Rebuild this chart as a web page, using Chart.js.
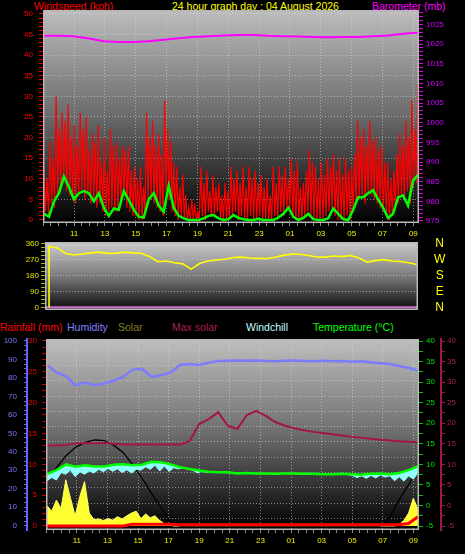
<!DOCTYPE html>
<html>
<head>
<meta charset="utf-8">
<script src="https://cdn.jsdelivr.net/npm/chart.js"></script>
<style>
html, body { margin: 0; padding: 0; background: #000; width: 465px; height: 554px; overflow: hidden; font-family: "Liberation Sans", Arial, sans-serif; }
canvas { position: absolute; left: 0; }
.txt { position: absolute; font-size: 10.5px; line-height: 12px; white-space: nowrap; }
</style>
</head>
<body>
<div class="txt" style="left:34px;top:0;color:#ff0000">Windspeed (kph)</div>
<div class="txt" style="left:172px;top:0;color:#ffff00">24 hour graph day : 04 August 2026</div>
<div class="txt" style="left:372px;top:0;color:#ff00ff">Barometer (mb)</div>

<div class="txt" style="left:0;top:321px;color:#ff0000">Rainfall (mm)</div>
<div class="txt" style="left:67px;top:321px;color:#8080ff">Humidity</div>
<div class="txt" style="left:118px;top:321px;color:#808020">Solar</div>
<div class="txt" style="left:172px;top:321px;color:#a8204e">Max solar</div>
<div class="txt" style="left:246px;top:321px;color:#c0ffff">Windchill</div>
<div class="txt" style="left:313px;top:321px;color:#00ff00">Temperature (°C)</div>

<canvas id="cTop" width="465" height="243" style="top:0"></canvas>
<canvas id="cDir" width="465" height="80" style="top:238px"></canvas>
<canvas id="cBottom" width="465" height="220" style="top:334px"></canvas>

<script>
// time axis (hours, 24h window ending next morning)
const HOURS_MIN = 8.985, HOURS_MAX = 33.365;
const DATA_START = 9.05, DATA_END = 33.3;
const WIND_DIR_START = 9.25;
const xTickHours = [11, 13, 15, 17, 19, 21, 23, 25, 27, 29, 31, 33];
const xTickLabels = ['11', '13', '15', '17', '19', '21', '23', '01', '03', '05', '07', '09'];
const dirTickValues = [0, 90, 180, 270, 360];
const dirTickLabels = ['N', 'E', 'S', 'W', 'N'];

// windspeed (kph)
const windGust = [
  13,2,10,1, 19,4,15,3, 30,6,22,8, 26,9,24,7, 28,6,20,5, 23,4,18,6, 26,7,22,5, 25,6,17,4,
  21,5,19,3, 23,4,14,2, 20,1,12,2, 22,3,18,2, 19,2,15,5, 18,6,17,3, 18,2,12,1, 13,1,10,0,
  13,0,8,2, 26,5,20,6, 24,4,18,3, 21,2,16,1, 29,7,22,5, 19,2,14,1, 13,0,8,1, 11,0,6,0,
  3,0,5,0, 4,0,2,0, 13,1,9,0, 12,2,7,1, 11,1,8,2, 9,0,6,0, 9,0,7,0, 13,1,10,2,
  12,0,9,1, 13,0,8,0, 13,1,10,0, 12,0,9,1, 11,0,8,0, 10,0,6,0, 13,1,9,0, 13,2,11,1,
  13,3,10,2, 15,1,12,0, 14,0,8,0, 9,1,12,2, 17,1,14,0, 13,0,10,0, 14,0,11,1, 15,2,13,3,
  16,1,12,0, 15,0,11,0, 15,1,12,0, 13,2,16,4, 24,5,20,6, 22,4,18,7, 24,6,19,5, 20,4,17,3,
  18,2,14,1, 14,0,10,1, 12,3,16,4, 21,6,18,5, 24,7,20,4, 29,8,22,9, 33
];
const windAvg = [
  1.5,0.8,4.5,6.5,10.5,8.0,5.0,6.5,7.0,6.5, 4.5,6.5,3.0,1.0,2.8,2.5,7.0,4.8,2.5,0.8,
  0.6,5.0,6.5,3.5,2.0,8.3,3.0,1.0,0.4,0, 0,0,0.4,1.0,1.2,0.4,0,0.2,1.2,0.5,
  0.2,0,0,0.3,0,0,0,0.6,1.5,3.0, 0.8,0,0.5,1.5,0.2,0,0,0.4,2.8,1.5,
  0.2,0,2.5,5.5,5.5,6.5,7.2,5.0,3.0,0.5, 1.5,5.5,6.0,3.5,9.5,11.0
];
// barometer (mb)
const baroMb = [
  1022.1,1022.1,1022.0,1021.4,1020.7,1020.5,1020.5,1020.7,1021.1,1021.5,1021.8,1022.0,1022.2,
  1022.3,1022.3,1022.1,1022.0,1021.9,1021.8,1021.7,1021.8,1021.8,1022.0,1022.2,1022.6,1022.9
];
// wind direction (degrees)
const windDirFirst = 0;
const windDir = [
  345,336,305,296,302,308,312,305,306,312, 308,306,288,258,262,252,246,216,248,262,
  268,272,282,284,279,277,276,283,294,301, 300,293,285,284,290,287,293,281,256,264,
  270,262,259,252,242
];
const windDirBase = [0, 0];

// lower panel
const humidity = [
  87,83,81,76,77.5,76,77,78.5,80.5,84.5, 85,80.5,81.5,83,87,87.5,87,88.3,89.2,89.3,
  89.5,89.3,89.5,89.2,89.0,89.3,89.5,89.2,89.0,89.3, 89.0,89.2,88.8,89.0,88.5,88.0,87.5,86.5,85.5,84
];
const temperature = [
  7.6,8.6,10.0,9.4,9.8,9.5,9.5,9.9,10.0,9.8, 9.9,10.6,10.5,10.0,9.3,8.9,8.5,8.2,8.1,8.1,
  7.8,7.9,7.8,7.8,7.7,7.8,7.8,7.7,7.7,7.6, 7.6,7.7,7.6,7.5,7.7,7.8,7.6,7.9,8.6,9.5
];
const windchill = [
  6.0,6.8,6.2,8.0,7.6,8.6,7.0,8.2,7.6,8.4, 7.9,8.8,8.2,9.0,8.3,8.9,8.0,8.7,7.9,8.8,
  8.6,9.4,8.8,9.8,8.4,9.6,8.3,9.2,8.9,9.1, 8.8,8.6,7.9,8.3,8.0,8.1,8.1,8.1,8.0,8.0,
  7.8,7.8,7.9,7.8,7.8,7.8,7.8,7.7,7.7,7.7, 7.8,7.8,7.8,7.7,7.7,7.7,7.6,7.7,7.6,7.6,
  7.6,7.5,7.6,7.6,7.5,7.3,6.8,7.2,6.6,7.3, 6.7,7.4,6.9,7.2,6.0,7.0,5.9,7.2,6.4,8.0
];
const maxSolar = [
  14.6,14.6,14.7,15.1,15.2,15.1,15.2,15.0,14.8,14.8, 14.8,14.8,14.8,14.8,14.8,15.7,19.8,21.0,22.7,19.4,
  18.6,22.0,23.0,21.8,20.3,19.4,18.8,18.3,17.9,17.6, 17.3,17.0,16.7,16.5,16.2,16.0,15.8,15.6,15.5,15.4
];
const solarCurve = [
  249,315,380,425,452,465,462,437,398,332, 258,175,100,18,0,0,0,0,0,0,
  0,0,0,0,0,0,0,0,0,0, 0,0,0,0,0,0,45,140,222,320
];
const solar = [
  110,80,140,95,250,150,55,160,240,70, 35,38,30,40,32,50,38,55,70,80,
  40,65,45,55,30,12,5,0,0,0, 0,0,0,0,0,0,0,0,0,0,
  0,0,0,0,0,0,0,0,0,0, 0,0,0,0,0,0,0,0,0,0,
  0,0,0,0,0,0,0,0,0,0, 0,0,0,0,0,8,30,70,150,90
];
const rainfall = [
  0,0,0,0,0,0,0,0,0,0.3, 0.3,0.3,0.3,0.3,0.2,0.2,0.2,0.2,0.2,0.2,
  0.2,0.2,0.2,0.2,0.2,0.2,0.2,0.2,0.2,0.2, 0.2,0.2,0.2,0.2,0.2,0.2,0.2,0.2,0.4,1.5
];

const FONT = '"Liberation Sans", Arial, sans-serif';
const GRID = 'rgba(220,220,220,0.55)';
Chart.defaults.font.family = FONT;
Chart.defaults.font.size = 8;
Chart.defaults.animation = false;
Chart.defaults.plugins.legend.display = false;
Chart.defaults.plugins.tooltip.enabled = false;
Chart.defaults.elements.point.radius = 0;
Chart.defaults.elements.line.tension = 0;

function steps(a, b, s) {
  const out = [];
  for (let v = a; v <= b + 1e-9; v += s) out.push(Math.round(v * 1000) / 1000);
  return out;
}
const fixTicks = values => s => { s.ticks = values.map(v => ({ value: v })); };
// fixed axis boxes; drop label overhang padding so plot edges stay put
const fixWidth = w => s => { s.width = w; s.paddingTop = 0; s.paddingBottom = 0; };
const fixHeight = h => s => { s.height = h; s.paddingLeft = 0; s.paddingRight = 0; };
const isMult = (v, m) => Math.abs(v / m - Math.round(v / m)) < 1e-6;

// spread readings evenly over the logged time span
function spread(values, t0, t1) {
  const n = values.length;
  return values.map((v, i) => ({ x: t0 + (t1 - t0) * i / (n - 1), y: v }));
}

function hourAxis(height) {
  return {
    type: 'linear', min: HOURS_MIN, max: HOURS_MAX,
    afterBuildTicks: fixTicks(steps(9, 33, 0.5)),
    afterFit: fixHeight(height),
    grid: {
      color: c => (c.tick && xTickHours.includes(c.tick.value)) ? GRID : 'transparent',
      tickColor: '#8c8c8c', tickLength: 3
    },
    border: { display: false, dash: [1, 2] },
    ticks: {
      color: '#f0f000', padding: 3, autoSkip: false, maxRotation: 0, minRotation: 0,
      callback: v => { const i = xTickHours.indexOf(v); return i < 0 ? '' : xTickLabels[i]; }
    }
  };
}

// gradient plot background + light frame
const panelFrame = {
  id: 'panelFrame',
  beforeDraw(chart, args, o) {
    const { ctx, chartArea: a } = chart;
    const g = ctx.createLinearGradient(0, a.top, 0, a.bottom);
    g.addColorStop(0, o.top);
    g.addColorStop(0.5, o.mid);
    g.addColorStop(1, o.bottom);
    ctx.save();
    ctx.fillStyle = g;
    ctx.fillRect(a.left, a.top, a.width, a.height);
    ctx.restore();
  },
  afterDraw(chart) {
    const { ctx, chartArea: a } = chart;
    ctx.save();
    ctx.strokeStyle = '#b8b8b8';
    ctx.lineWidth = 1.5;
    ctx.strokeRect(a.left + 0.75, a.top + 0.75, a.width - 1.5, a.height - 1.5);
    ctx.restore();
  }
};

// ---- windspeed / barometer
new Chart(document.getElementById('cTop'), {
  type: 'line',
  plugins: [panelFrame],
  data: {
    datasets: [
      { data: spread(windAvg, DATA_START, DATA_END), yAxisID: 'y', borderColor: '#00ff00', borderWidth: 2.5 },
      { data: spread(baroMb, DATA_START, DATA_END), yAxisID: 'yBaro', borderColor: '#ff00ff', borderWidth: 2 },
      { data: spread(windGust, DATA_START, DATA_END), yAxisID: 'y', borderColor: '#ff0000', borderWidth: 1.2 }
    ]
  },
  options: {
    responsive: false,
    layout: { padding: { top: 10 } },
    plugins: { panelFrame: { top: '#bdbdbd', mid: '#6a6a6a', bottom: '#000000' } },
    scales: {
      x: hourAxis(20),
      y: {
        position: 'left', min: -0.73, max: 50.97,
        afterBuildTicks: fixTicks(steps(0, 50, 1)),
        afterFit: fixWidth(43),
        grid: { color: c => (c.tick && c.tick.value > 0 && isMult(c.tick.value, 5)) ? GRID : 'transparent', tickColor: '#e00000', tickLength: 4 },
        border: { display: false, dash: [1, 2] },
        ticks: { color: '#ff0000', padding: 6, autoSkip: false, callback: v => isMult(v, 5) ? v : '' }
      },
      yBaro: {
        position: 'right', min: 974.49, max: 1028.66,
        afterBuildTicks: fixTicks(steps(975, 1028, 1)),
        afterFit: fixWidth(46),
        grid: { drawOnChartArea: false, tickColor: '#e000e0', tickLength: 4 },
        border: { display: false },
        ticks: { color: '#d000ff', padding: 3, autoSkip: false, callback: v => isMult(v, 5) ? v : '' }
      }
    }
  }
});

// ---- wind direction
new Chart(document.getElementById('cDir'), {
  type: 'line',
  plugins: [panelFrame],
  data: {
    datasets: [
      { data: [{ x: WIND_DIR_START, y: windDirFirst }].concat(spread(windDir, WIND_DIR_START, DATA_END)), yAxisID: 'y', borderColor: '#ffff00', borderWidth: 1.6 },
      { data: spread(windDirBase, DATA_START, DATA_END), yAxisID: 'y', borderColor: '#d070d0', borderWidth: 2 }
    ]
  },
  options: {
    responsive: false,
    layout: { padding: { top: 4, bottom: 8 } },
    plugins: { panelFrame: { top: '#cdcdcd', mid: '#7a7a7a', bottom: '#0a0a0a' } },
    scales: {
      x: { type: 'linear', min: HOURS_MIN, max: HOURS_MAX, display: false },
      y: {
        position: 'left', min: -15.3, max: 369.6,
        afterBuildTicks: fixTicks(steps(0, 360, 22.5)),
        afterFit: fixWidth(45),
        grid: { color: c => (c.tick && c.tick.value > 0 && c.tick.value < 360 && isMult(c.tick.value, 90)) ? GRID : 'transparent', tickColor: '#b0b000', tickLength: 4 },
        border: { display: false, dash: [1, 2] },
        ticks: { color: '#e0e000', padding: 2, autoSkip: false, callback: v => isMult(v, 90) ? v : '' }
      },
      yDir: {
        position: 'right', min: -15.3, max: 369.6,
        afterBuildTicks: fixTicks(dirTickValues),
        afterFit: fixWidth(47),
        grid: { drawOnChartArea: false, tickColor: 'transparent', tickLength: 16 },
        border: { display: false },
        ticks: {
          color: '#ffff00', font: { size: 12 }, padding: 0, crossAlign: 'center', autoSkip: false,
          callback: v => { const i = dirTickValues.indexOf(v); return i < 0 ? '' : dirTickLabels[i]; }
        }
      }
    }
  }
});

// ---- rain / humidity / solar / temperature
new Chart(document.getElementById('cBottom'), {
  type: 'line',
  plugins: [panelFrame],
  data: {
    datasets: [
      { data: spread(rainfall, DATA_START, DATA_END), yAxisID: 'yRain', borderColor: '#ff0000', borderWidth: 3 },
      { data: spread(temperature, DATA_START, DATA_END), yAxisID: 'yTemp', borderColor: '#00ff00', borderWidth: 2.5 },
      { data: spread(windchill, DATA_START, DATA_END), yAxisID: 'yTemp', borderColor: '#90ffff', borderWidth: 1, fill: { target: 1 }, backgroundColor: '#90ffff' },
      { data: spread(humidity, DATA_START, DATA_END), yAxisID: 'yHum', borderColor: '#7c7cff', borderWidth: 2.5 },
      { data: spread(maxSolar, DATA_START, DATA_END), yAxisID: 'yMax', borderColor: '#a3144a', borderWidth: 2 },
      { data: spread(solarCurve, DATA_START, DATA_END), yAxisID: 'ySolar', borderColor: '#000000', borderWidth: 1.3 },
      { data: spread(solar, DATA_START, DATA_END), yAxisID: 'ySolar', borderColor: '#ffff70', borderWidth: 1, fill: 'origin', backgroundColor: '#ffff30' }
    ]
  },
  options: {
    responsive: false,
    layout: { padding: { top: 5 } },
    plugins: { panelFrame: { top: '#bfbfbf', mid: '#6c6c6c', bottom: '#000000' } },
    scales: {
      x: hourAxis(24),
      yGrid: {
        position: 'left', weight: 2, min: 0, max: 12.48,
        afterBuildTicks: fixTicks(steps(0.75, 11.75, 1)),
        afterFit: fixWidth(0),
        grid: { color: GRID, drawTicks: false },
        border: { display: false, dash: [1, 2] },
        ticks: { display: false }
      },
      yHum: {
        position: 'left', weight: 1, min: -2.33, max: 101.08,
        afterBuildTicks: fixTicks(steps(0, 100, 2.5)),
        afterFit: fixWidth(27),
        grid: { drawOnChartArea: false, tickColor: '#6464ff', tickLength: 3 },
        border: { display: true, color: '#6464ff', width: 2 },
        ticks: { color: '#7878ff', padding: 7, autoSkip: false, callback: v => isMult(v, 10) ? v : '' }
      },
      yRain: {
        position: 'left', weight: 0, min: -0.65, max: 30.32,
        afterBuildTicks: fixTicks(steps(0, 30, 1)),
        afterFit: fixWidth(19),
        grid: { drawOnChartArea: false, tickColor: '#c00000', tickLength: 4 },
        border: { display: false },
        ticks: { color: '#ee0000', padding: 5, autoSkip: false, callback: v => isMult(v, 5) ? v : '' }
      },
      yTemp: {
        position: 'right', weight: 0, min: -5.97, max: 40.49,
        afterBuildTicks: fixTicks(steps(-5, 40, 2.5)),
        afterFit: fixWidth(22),
        grid: { drawOnChartArea: false, tickColor: '#00c000', tickLength: 4 },
        border: { display: false },
        ticks: { color: '#00e000', padding: 3, autoSkip: false, callback: v => isMult(v, 5) ? v : '' }
      },
      yMax: {
        position: 'right', weight: 1, min: -5.97, max: 40.49,
        afterBuildTicks: fixTicks(steps(-5, 40, 2.5)),
        afterFit: fixWidth(24),
        grid: { drawOnChartArea: false, tickColor: '#a01848', tickLength: 4 },
        border: { display: true, color: '#a01848', width: 2 },
        ticks: { color: '#a8204e', padding: 2, autoSkip: false, callback: v => isMult(v, 5) ? v : '' }
      },
      ySolar: { display: false, min: -21.6, max: 1010.8 }
    }
  }
});
</script>
</body>
</html>
